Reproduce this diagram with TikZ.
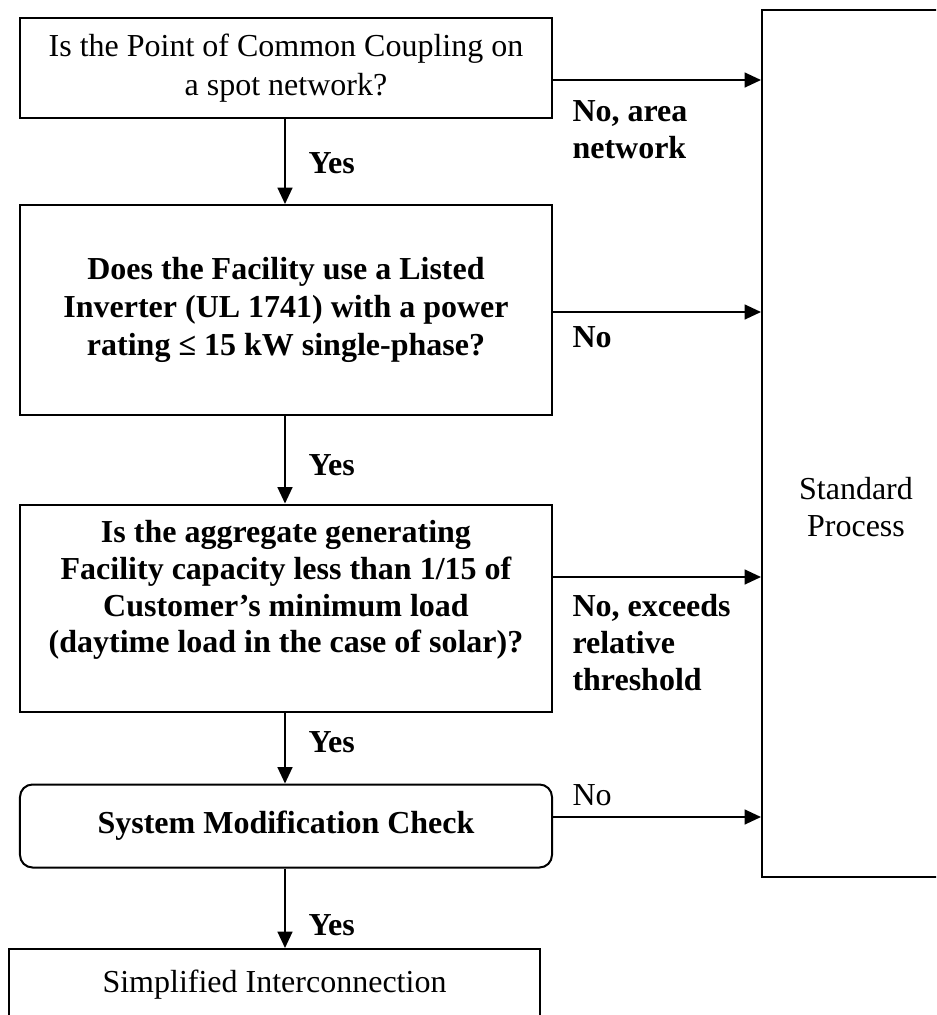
\documentclass[tikz,border=0pt]{standalone}
\usepackage{fontspec}
\setmainfont{Liberation Serif}
\usetikzlibrary{arrows.meta}

\tikzset{
	box/.style={draw, line width=0.8pt, minimum width=212.8pt, align=center,
		font=\fontsize{12.8}{15.4}\selectfont},
	arr/.style={line width=0.7pt, -{Triangle[length=6.6pt, width=6pt]}},
	lbl/.style={anchor=west, align=left, inner sep=0pt,
		font=\fontsize{12.8}{14.8}\selectfont\bfseries},
}

\begin{document}
\begin{tikzpicture}[x=0.4pt, y=-0.4pt, line cap=butt, line join=miter]
	\clip (0,0) rectangle (936,1015);

	%========================
	% Left column: questions
	%========================
	\node[box, minimum height=40pt] (pcc) at (286,68)
		{Is the Point of Common Coupling on\\a spot network?};
	\node[box, minimum height=84pt, font=\fontsize{12.8}{15.2}\selectfont\bfseries] (inv) at (286,310)
		{Does the Facility use a Listed\\Inverter (UL 1741) with a power\\rating ≤ 15 kW single-phase?};
	% box drawn empty, text sits a bit high in it
	\node[box, minimum height=82.8pt] (agg) at (286,608) {};
	\node[align=center, font=\fontsize{12.8}{14.7}\selectfont\bfseries] (aggtext) at (286,590)
		{Is the aggregate generating\\Facility capacity less than 1/15 of\\Customer’s minimum load\\(daytime load in the case of solar)?};
	\node[box, rounded corners=5pt, minimum height=33.2pt, font=\fontsize{12.8}{15.4}\selectfont\bfseries] (smc) at (286,826)
		{System Modification Check};
	\node[box, minimum width=212.4pt, minimum height=28.8pt] (simp) at (274.5,985)
		{Simplified Interconnection};

	%========================
	% Right: standard process
	%========================
	\node[draw, line width=0.8pt, minimum width=76pt, minimum height=346.8pt] (std) at (857,443.5) {};
	\node[align=center, font=\fontsize{12.8}{14.8}\selectfont] (stdtext) at (856,507)
		{Standard\\Process};

	% yes arrows
	\draw[arr] (pcc.south -| 285,0) -- (inv.north -| 285,0);
	\draw[arr] (inv.south -| 285,0) -- (agg.north -| 285,0);
	\draw[arr] (agg.south -| 285,0) -- (smc.north -| 285,0);
	\draw[arr] (smc.south -| 285,0) -- (simp.north -| 285,0);
	\node[lbl] (yes1) at (308,163) {Yes};
	\node[lbl] (yes2) at (308,465) {Yes};
	\node[lbl] (yes3) at (308,742) {Yes};
	\node[lbl] (yes4) at (308,925) {Yes};

	% no arrows
	\draw[arr] (pcc.east |- 0,80) -- (std.west |- 0,80);
	\draw[arr] (inv.east |- 0,312) -- (std.west |- 0,312);
	\draw[arr] (agg.east |- 0,577) -- (std.west |- 0,577);
	\draw[arr] (smc.east |- 0,817) -- (std.west |- 0,817);
	\node[lbl] (no1) at (572,130) {No, area\\network};
	\node[lbl] (no2) at (572,337) {No};
	\node[lbl] (no3) at (572,643) {No, exceeds\\relative\\threshold};
	\node[lbl, font=\fontsize{12.8}{14.8}\selectfont] (no4) at (572,795) {No};
\end{tikzpicture}
\end{document}
